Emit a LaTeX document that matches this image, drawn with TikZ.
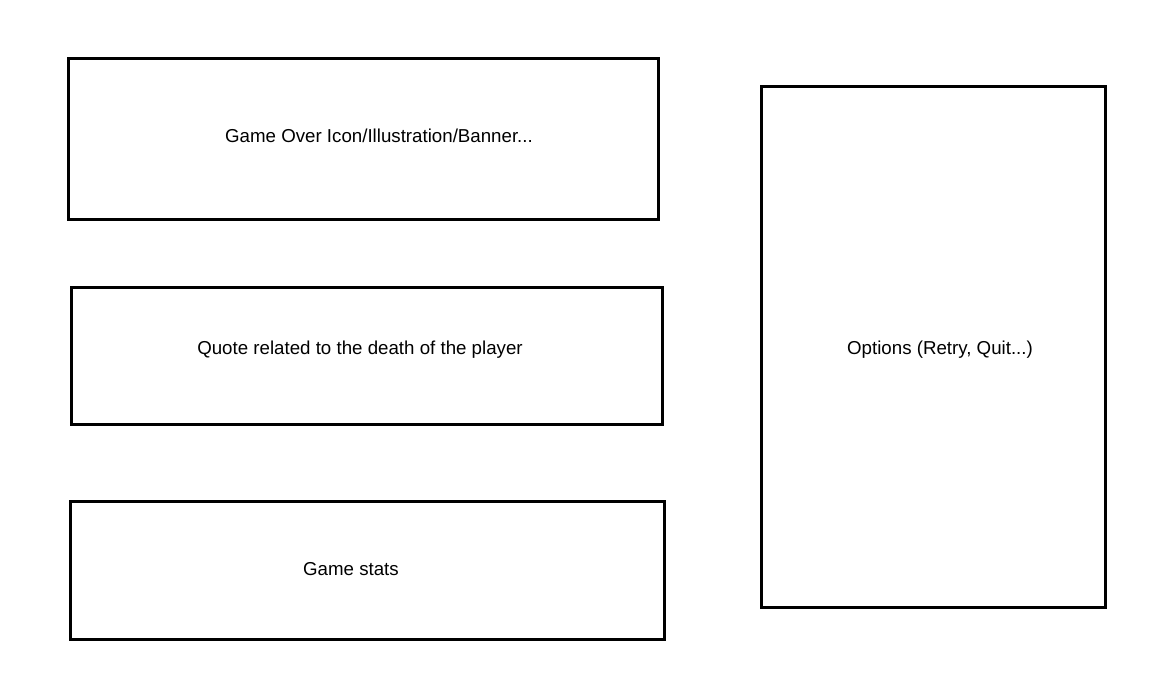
\documentclass[tikz,border=0pt]{standalone}
\usepackage{fontspec}
\setmainfont{Liberation Sans}
\usetikzlibrary{positioning}

\tikzset{
    screenbox/.style={draw=black, line width=3pt, fill=white, inner sep=0pt},
    caption/.style={font=\fontsize{18.7}{22}\selectfont, inner sep=0pt}
}

\begin{document}
\begin{tikzpicture}[x=1pt, y=-1pt]
    \useasboundingbox (0,0) rectangle (1152,682);
    % left column
    \node[screenbox, minimum width=590pt, minimum height=160pt] (banner) at (363,139) {};
    \node[caption] (bannertext) at (379,136) {Game Over Icon/Illustration/Banner...};
    \node[screenbox, minimum width=591pt, minimum height=137pt] (quote) at (366.5,355.5) {};
    \node[caption] (quotetext) at (360,350) {Quote related to the death of the player};
    \node[screenbox, minimum width=594pt, minimum height=138pt] (stats) at (367,570) {};
    \node[caption] (statstext) at (351,569) {Game stats};
    % right column
    \node[screenbox, minimum width=344pt, minimum height=520pt] (options) at (933,347) {};
    \node[caption] (optionstext) at (940,350) {Options (Retry, Quit...)};
\end{tikzpicture}
\end{document}
